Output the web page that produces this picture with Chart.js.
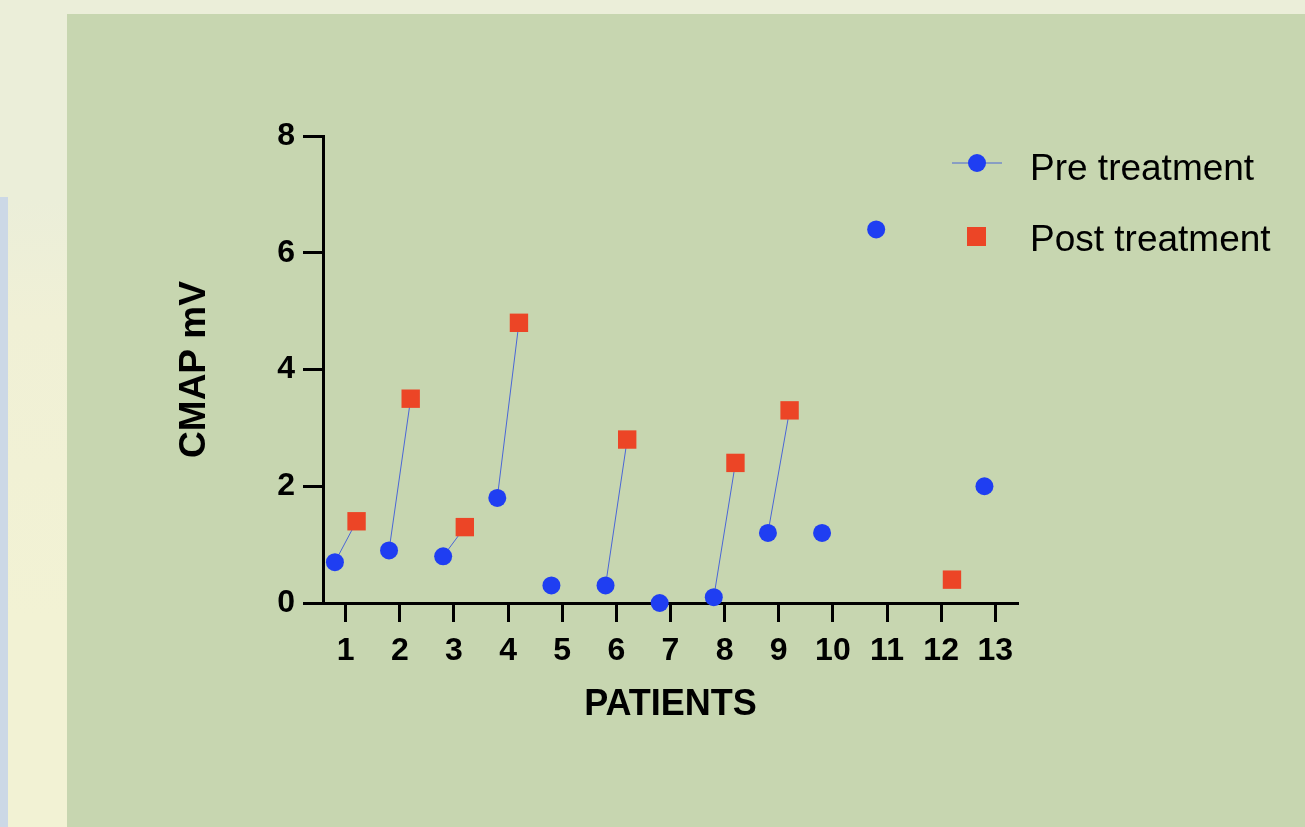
<!DOCTYPE html>
<html lang="en">
<head>
    <meta charset="UTF-8">
    <title>CMAP pre / post treatment</title>
    <script src="https://cdn.jsdelivr.net/npm/chart.js"></script>
    <style>
        body { margin: 0; width: 1305px; height: 827px; overflow: hidden; background: #ebeed9; position: relative; font-family: "Liberation Sans", Arial, sans-serif; }
        .cream { position: absolute; left: 8px; top: 200px; width: 59px; height: 627px; background: linear-gradient(#ebeed9 0px, #f0f0d6 120px, #f2f2d4 420px); }
        .strip { position: absolute; left: 0; top: 197px; width: 8px; height: 630px; background: #ccd8e6; }
        .panel { position: absolute; left: 67px; top: 14px; right: 0; bottom: 0; background: #c7d6b0; }
        .wrap { position: absolute; left: 0; top: 0; width: 1305px; height: 827px; }
    </style>
</head>
<body>
    <div class="cream"></div>
    <div class="strip"></div>
    <div class="panel"></div>
    <div class="wrap"><canvas id="cmapChart"></canvas></div>

    <script>
        // data
        const patients = [1, 2, 3, 4, 5, 6, 7, 8, 9, 10, 11, 12, 13];
        const tickLabels = ['1', '2', '3', '4', '5', '6', '7', '8', '9', '10', '11', '12', '13'];
        const preTreatment  = [0.7, 0.9, 0.8, 1.8, 0.3, 0.3, 0.0, 0.1, 1.2, 1.2, 6.4, null, 2.0];
        const postTreatment = [1.4, 3.5, 1.3, 4.8, null, 2.8, null, 2.4, 3.3, null, null, 0.4, null];
        const yTicks = [0, 2, 4, 6, 8];

        const BLUE = '#1f3ef2';
        const RED = '#ec4526';
        const LINK = '#4a66d6';
        const SHIFT = 0.2;   // pre drawn left of the patient tick, post right

        const prePoints = [];
        const postPoints = [];
        const links = [];
        patients.forEach((p, i) => {
            if (preTreatment[i] !== null) prePoints.push({x: p - SHIFT, y: preTreatment[i]});
            if (postTreatment[i] !== null) postPoints.push({x: p + SHIFT, y: postTreatment[i]});
            if (preTreatment[i] !== null && postTreatment[i] !== null) {
                links.push({x: p - SHIFT, y: preTreatment[i]});
                links.push({x: p + SHIFT, y: postTreatment[i]});
                links.push({x: p, y: null});
            }
        });

        // legend drawn by hand: it sits half over the plot, half beside it
        const sideLegend = {
            id: 'sideLegend',
            afterDraw(chart) {
                const ctx = chart.ctx;
                ctx.save();
                ctx.strokeStyle = LINK;
                ctx.lineWidth = 1;
                ctx.beginPath();
                ctx.moveTo(952, 163);
                ctx.lineTo(1002, 163);
                ctx.stroke();
                ctx.fillStyle = BLUE;
                ctx.beginPath();
                ctx.arc(977, 163, 9, 0, Math.PI * 2);
                ctx.fill();
                ctx.fillStyle = RED;
                ctx.fillRect(967, 227, 19, 19);

                ctx.fillStyle = '#000';
                ctx.font = '37px "Liberation Sans", Arial, sans-serif';
                ctx.textBaseline = 'alphabetic';
                ctx.fillText(chart.data.datasets[0].label, 1030, 180);
                ctx.fillText(chart.data.datasets[1].label, 1030, 251);
                ctx.restore();
            }
        };

        const ctx = document.getElementById('cmapChart').getContext('2d');
        const cmapChart = new Chart(ctx, {
            type: 'scatter',
            data: {
                datasets: [{
                    label: 'Pre treatment',
                    data: prePoints,
                    pointStyle: 'circle',
                    pointRadius: 9,
                    backgroundColor: BLUE,
                    borderColor: BLUE,
                    borderWidth: 0,
                    clip: false
                }, {
                    label: 'Post treatment',
                    data: postPoints,
                    pointStyle: 'rect',
                    pointRadius: 13,
                    backgroundColor: RED,
                    borderColor: RED,
                    borderWidth: 0,
                    clip: false
                }, {
                    label: 'links',
                    data: links,
                    showLine: true,
                    spanGaps: false,
                    pointRadius: 0,
                    borderColor: LINK,
                    borderWidth: 1,
                    clip: false
                }]
            },
            options: {
                responsive: true,
                maintainAspectRatio: false,
                animation: false,
                layout: { padding: { left: 160, top: 136, right: 287, bottom: 100 } },
                plugins: {
                    legend: { display: false },
                    tooltip: { enabled: false }
                },
                scales: {
                    x: {
                        type: 'linear',
                        min: 0.58,
                        max: 13.42,
                        afterBuildTicks: scale => { scale.ticks = patients.map(v => ({value: v})); },
                        afterFit: scale => { scale.height = 124; },
                        ticks: {
                            callback: (value, index) => tickLabels[index],
                            color: '#000',
                            padding: 10,
                            font: { family: '"Liberation Sans", Arial, sans-serif', size: 32, weight: 'bold' }
                        },
                        grid: { drawOnChartArea: false, tickLength: 19, tickWidth: 3, tickColor: '#000' },
                        border: { width: 3, color: '#000' },
                        title: {
                            display: true,
                            text: 'PATIENTS',
                            color: '#000',
                            padding: { top: 0, bottom: 0 },
                            font: { family: '"Liberation Sans", Arial, sans-serif', size: 36, weight: 'bold' }
                        }
                    },
                    y: {
                        min: 0,
                        max: 8,
                        afterBuildTicks: scale => { scale.ticks = yTicks.map(v => ({value: v})); },
                        afterFit: scale => { scale.width = 163; },
                        ticks: {
                            color: '#000',
                            padding: 8,
                            font: { family: '"Liberation Sans", Arial, sans-serif', size: 32, weight: 'bold' }
                        },
                        grid: { drawOnChartArea: false, tickLength: 20, tickWidth: 3, tickColor: '#000' },
                        border: { width: 3, color: '#000' },
                        title: {
                            display: true,
                            text: 'CMAP mV',
                            color: '#000',
                            padding: { top: 13, bottom: 0 },
                            font: { family: '"Liberation Sans", Arial, sans-serif', size: 37, weight: 'bold' }
                        }
                    }
                }
            },
            plugins: [sideLegend]
        });
    </script>
</body>
</html>
